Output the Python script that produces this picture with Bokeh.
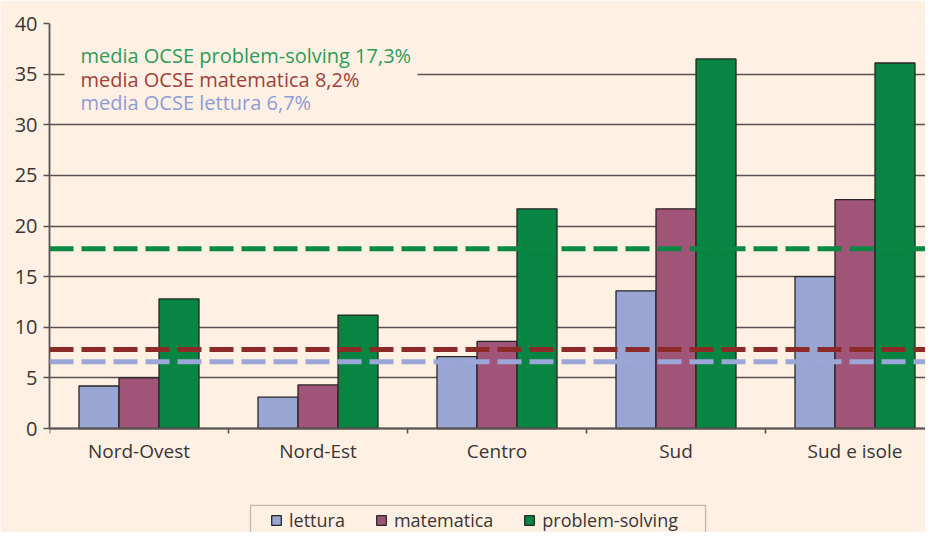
from bokeh.plotting import figure
from bokeh.models import (Span, Label, BoxAnnotation, FixedTicker, Legend, LegendItem,
                          ColumnDataSource, Range1d)
from bokeh.embed import file_html
from bokeh.resources import INLINE

# ---- data ----
regions = ["Nord-Ovest", "Nord-Est", "Centro", "Sud", "Sud e isole"]
lettura = [4.2, 3.1, 7.1, 13.6, 15.0]
matematica = [5.0, 4.3, 8.6, 21.7, 22.6]
problem_solving = [12.8, 11.2, 21.7, 36.5, 36.1]
series_names = ["lettura", "matematica", "problem-solving"]
avg_lines = [17.75, 7.8, 6.6]   # drawn level of the OCSE average lines
avg_texts = ["media OCSE problem-solving 17,3%", "media OCSE matematica 8,2%",
             "media OCSE lettura 6,7%"]
y_ticks = [0, 5, 10, 15, 20, 25, 30, 35, 40]

BG = "#FEF1E3"
bar_colors = ["#99A5D3", "#A05478", "#088443"]
line_colors = ["#0A8843", "#8C2A27", "#9AA7D8"]
text_colors = ["#2F9A5B", "#A23E3C", "#8E9CD6"]
GRID = "#595252"
TXT = "#3a3535"
FONT = "Open Sans"

n = len(regions)
W, H = 925, 532
LEFT, TOP = 49, 23
PX_PER_UNIT = 10.125
CAT_PX = 179.0
y_start = 40 - (H - TOP) / PX_PER_UNIT
x_end = (W - LEFT) / CAT_PX

p = figure(width=W, height=H, output_backend="svg", toolbar_location=None,
           x_range=Range1d(0, x_end), y_range=Range1d(y_start, 40),
           min_border_left=LEFT, min_border_right=0, min_border_top=TOP, min_border_bottom=0)
p.background_fill_color = BG
p.border_fill_color = BG
p.outline_line_color = None

# grid
p.xgrid.grid_line_color = None
p.ygrid.ticker = FixedTicker(ticks=y_ticks)
p.ygrid.grid_line_color = GRID
p.ygrid.grid_line_width = 1.6

# y axis
p.yaxis.ticker = FixedTicker(ticks=y_ticks)
p.yaxis.bounds = (0, 40)
p.yaxis.axis_line_color = GRID
p.yaxis.axis_line_width = 1.8
p.yaxis.major_tick_line_color = GRID
p.yaxis.major_tick_line_width = 1.6
p.yaxis.major_tick_out = 6
p.yaxis.major_tick_in = 0
p.yaxis.minor_tick_line_color = None
p.yaxis.major_label_text_font = FONT
p.yaxis.major_label_text_font_size = "20px"
p.yaxis.major_label_text_color = TXT
p.yaxis.major_label_standoff = 6

# x axis at y = 0: labels at centres, ticks at boundaries
centers = [i + 0.5 for i in range(n)]
bounds = [float(i) for i in range(n + 1)]
p.xaxis.fixed_location = 0
p.xaxis.ticker = FixedTicker(ticks=centers, minor_ticks=bounds)
p.xaxis.major_label_overrides = {c: r for c, r in zip(centers, regions)}
p.xaxis.axis_line_color = GRID
p.xaxis.axis_line_width = 1.8
p.xaxis.major_tick_line_color = None
p.xaxis.minor_tick_line_color = GRID
p.xaxis.minor_tick_line_width = 1.6
p.xaxis.minor_tick_out = 5
p.xaxis.minor_tick_in = 0
p.xaxis.major_tick_out = 5
p.xaxis.major_tick_in = 0
p.xaxis.major_label_text_font = FONT
p.xaxis.major_label_text_font_size = "19px"
p.xaxis.major_label_text_color = TXT
p.xaxis.major_label_standoff = 4

# bars
bw = 0.2235
offsets = [-bw, 0.0, bw]
renderers = []
for vals, off, col, name in zip([lettura, matematica, problem_solving], offsets, bar_colors, series_names):
    src = ColumnDataSource(dict(x=[c + off for c in centers], top=vals))
    r = p.vbar(x="x", top="top", bottom=0, width=bw, source=src, fill_color=col,
               line_color="#2a2626", line_width=1.3)
    renderers.append(r)

# background box behind the texts (hides the 35 gridline)
p.add_layout(BoxAnnotation(left=0.084, right=2.056, bottom=31.6, top=38.3,
                           fill_color=BG, fill_alpha=1.0, line_color=None, level="underlay"))

# average lines
for v, col in zip(avg_lines, line_colors):
    p.add_layout(Span(location=v, dimension="width", line_color=col, line_width=5,
                      line_dash="24 8"))

# texts
text_y = [36.84, 34.5, 32.2]
for t, yv, col in zip(avg_texts, text_y, text_colors):
    p.add_layout(Label(x=0.173, y=yv, text=t, text_color=col, text_font=FONT,
                       text_font_size="20px", text_baseline="alphabetic"))

# legend frame (wider than the legend's own padding, running off the bottom edge)
p.add_layout(BoxAnnotation(left=1.123, right=3.665, top=-7.6, bottom=-11.5,
                           fill_color=BG, fill_alpha=1.0, line_color="#3a3535",
                           line_width=1.3))

items = [LegendItem(label=nm, renderers=[r]) for nm, r in zip(series_names, renderers)]
legend = Legend(items=items, orientation="horizontal", location=(221, 0),
                background_fill_alpha=0.0, border_line_color=None,
                label_text_font=FONT, label_text_font_size="18px", label_text_color=TXT,
                glyph_width=12, glyph_height=12, label_standoff=7, spacing=30,
                padding=5, margin=0)
p.add_layout(legend, "center")

html = file_html(p, INLINE)
html = html.replace("<body>", '<body style="background-color:%s;">' % BG, 1)
open("out.html", "w").write(html)
